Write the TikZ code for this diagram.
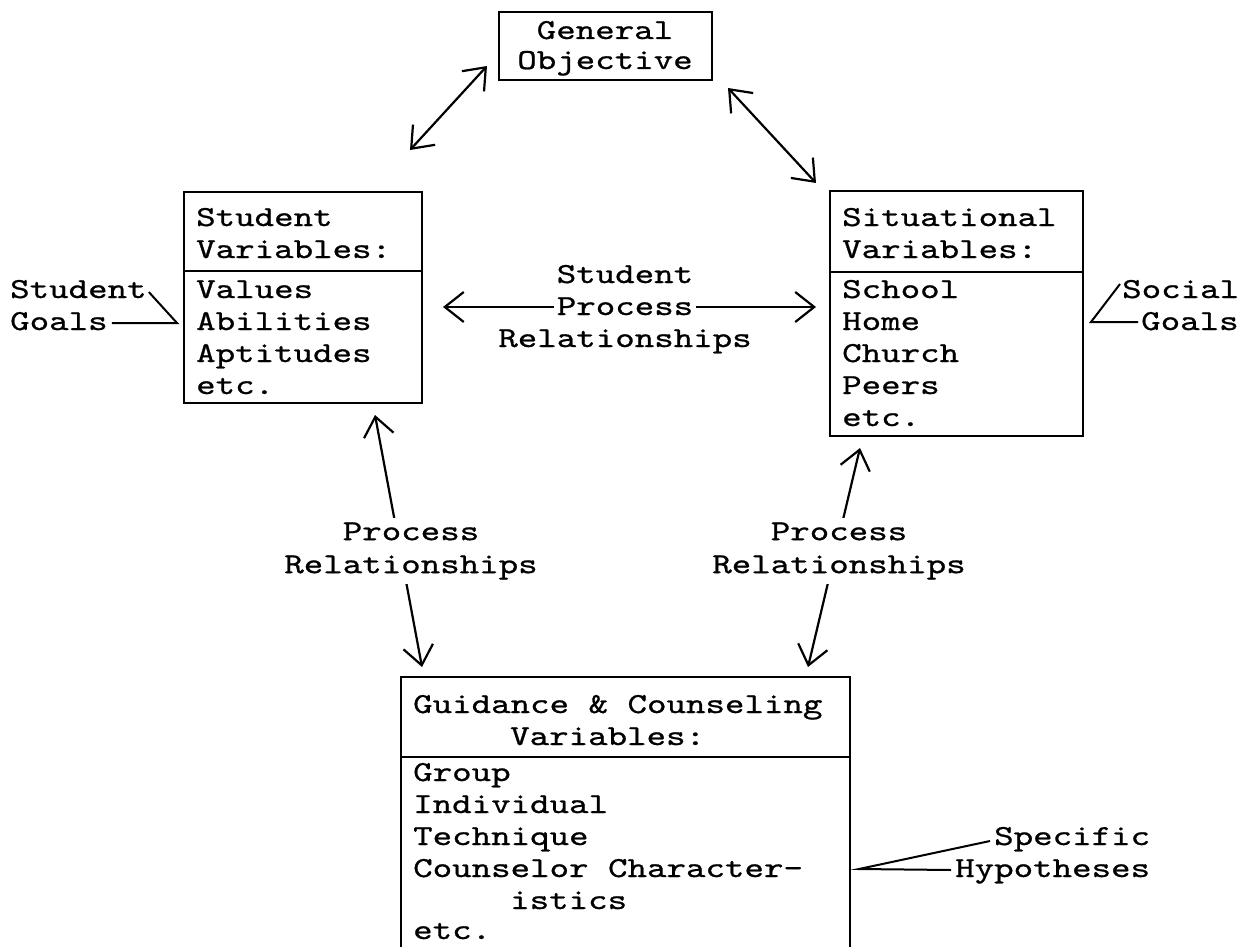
\documentclass[tikz,border=0pt]{standalone}
\usepackage{fontspec}
\newfontfamily\typewriter{lmmono10-regular.otf}[FakeStretch=1.28,FakeBold=0.8]
\usetikzlibrary{arrows.meta,calc}
\tikzset{
  txt/.style={font=\typewriter\fontsize{29}{33}\selectfont, inner sep=0pt, anchor=base west},
  ctxt/.style={txt, anchor=base},
  box/.style={draw, line width=2.4pt, inner sep=0pt},
  rule/.style={line width=2.4pt},
  conn/.style={line width=2pt},
  biarrow/.style={line width=2.2pt,
    {Straight Barb[length=19pt,width=30pt,line width=2.2pt]}-{Straight Barb[length=19pt,width=30pt,line width=2.2pt]}},
  lbl/.style={font=\typewriter\fontsize{29}{33}\selectfont, fill=white, inner sep=4pt, align=center},
}
\begin{document}
\begin{tikzpicture}[x=1pt,y=-1pt]
\useasboundingbox (0,0) rectangle (1247,947);

% General objective
\node[box, minimum width=213pt, minimum height=68pt] (go) at (605.5,46) {};
\node[ctxt] (go1) at (605,39) {General};
\node[ctxt] (go2) at (605,69) {Objective};

% Student variables
\node[box, minimum width=238pt, minimum height=211pt] (sv) at (303,297.5) {};
\draw[rule] (sv.west |- 0,271) -- (sv.east |- 0,271);
\node[txt] (sv1) at (196,226) {Student};
\node[txt] (sv2) at (196,258) {Variables:};
\node[txt] (sv3) at (196,298) {Values};
\node[txt] (sv4) at (196,330) {Abilities};
\node[txt] (sv5) at (196,362) {Aptitudes};
\node[txt] (sv6) at (196,394) {etc.};

% Situational variables
\node[box, minimum width=253pt, minimum height=245pt] (sit) at (956.5,313.5) {};
\draw[rule] (sit.west |- 0,272) -- (sit.east |- 0,272);
\node[txt] (st1) at (842,226) {Situational};
\node[txt] (st2) at (842,258) {Variables:};
\node[txt] (st3) at (842,298) {School};
\node[txt] (st4) at (842,330) {Home};
\node[txt] (st5) at (842,362) {Church};
\node[txt] (st6) at (842,394) {Peers};
\node[txt] (st7) at (842,426) {etc.};

% Goal labels at the sides
\node[txt] (sg1) at (10,298) {Student};
\node[txt] (sg2) at (10,330) {Goals};
\coordinate (sgA) at (177,323);
\draw[conn] ($(sg1.base east)+(2,-6)$) -- (sgA) -- ($(sg2.base east)+(4,-7)$);

\node[txt] (so1) at (1122,298) {Social};
\node[txt] (so2) at (1141,330) {Goals};
\coordinate (soA) at (1091,322);
\draw[conn] ($(so1.base west)+(-2,-14)$) -- (soA) -- ($(so2.base west)+(-3,-8)$);

% Student process relationships
\coordinate (hpL) at (443,307);
\coordinate (hpR) at (816,307);
\draw[biarrow] (hpL) -- (hpR);
\node[ctxt] (sp1) at (625,283) {Student};
\node[ctxt, fill=white, inner sep=3pt] (sp2) at (625,315) {Process};
\node[ctxt] (sp3) at (625,347) {Relationships};

% General objective links
\coordinate (g1) at (487,66);
\coordinate (g2) at (410,150);
\draw[biarrow] (g1) -- (g2);
\coordinate (g3) at (728,88);
\coordinate (g4) at (816,183);
\draw[biarrow] (g3) -- (g4);

% Guidance and counseling variables (box runs off the page)
\begin{scope}
\clip (0,0) rectangle (1247,947);
\node[box, minimum width=449pt, minimum height=340pt] (gc) at (625.5,847) {};
\end{scope}
\draw[rule] (gc.west |- 0,757) -- (gc.east |- 0,757);
\node[txt] (gc1) at (413,713) {Guidance \& Counseling};
\node[txt] (gc2) at (510,745) {Variables:};
\node[txt] (gc3) at (413,781) {Group};
\node[txt] (gc4) at (413,813) {Individual};
\node[txt] (gc5) at (413,845) {Technique};
\node[txt] (gc6) at (413,877) {Counselor Character-};
\node[txt] (gc7) at (510,909) {istics};
\node[txt] (gc8) at (413,939) {etc.};

% Process relationship links
\coordinate (l1) at (375,415);
\coordinate (l2) at (422,667);
\draw[biarrow] (l1) -- (l2);
\node[lbl] (pl) at (411,551) {Process\\Relationships};

\coordinate (r1) at (860,448);
\coordinate (r2) at (808,667);
\draw[biarrow] (r1) -- (r2);
\node[lbl] (pr) at (839,551) {Process\\Relationships};

% Specific hypotheses
\node[txt] (sh1) at (994,845) {Specific};
\node[txt] (sh2) at (955,877) {Hypotheses};
\coordinate (shA) at (859,869);
\draw[conn] ($(sh1.base west)+(-4,-4)$) -- (shA) -- ($(sh2.base west)+(-4,-7)$);
\end{tikzpicture}
\end{document}
